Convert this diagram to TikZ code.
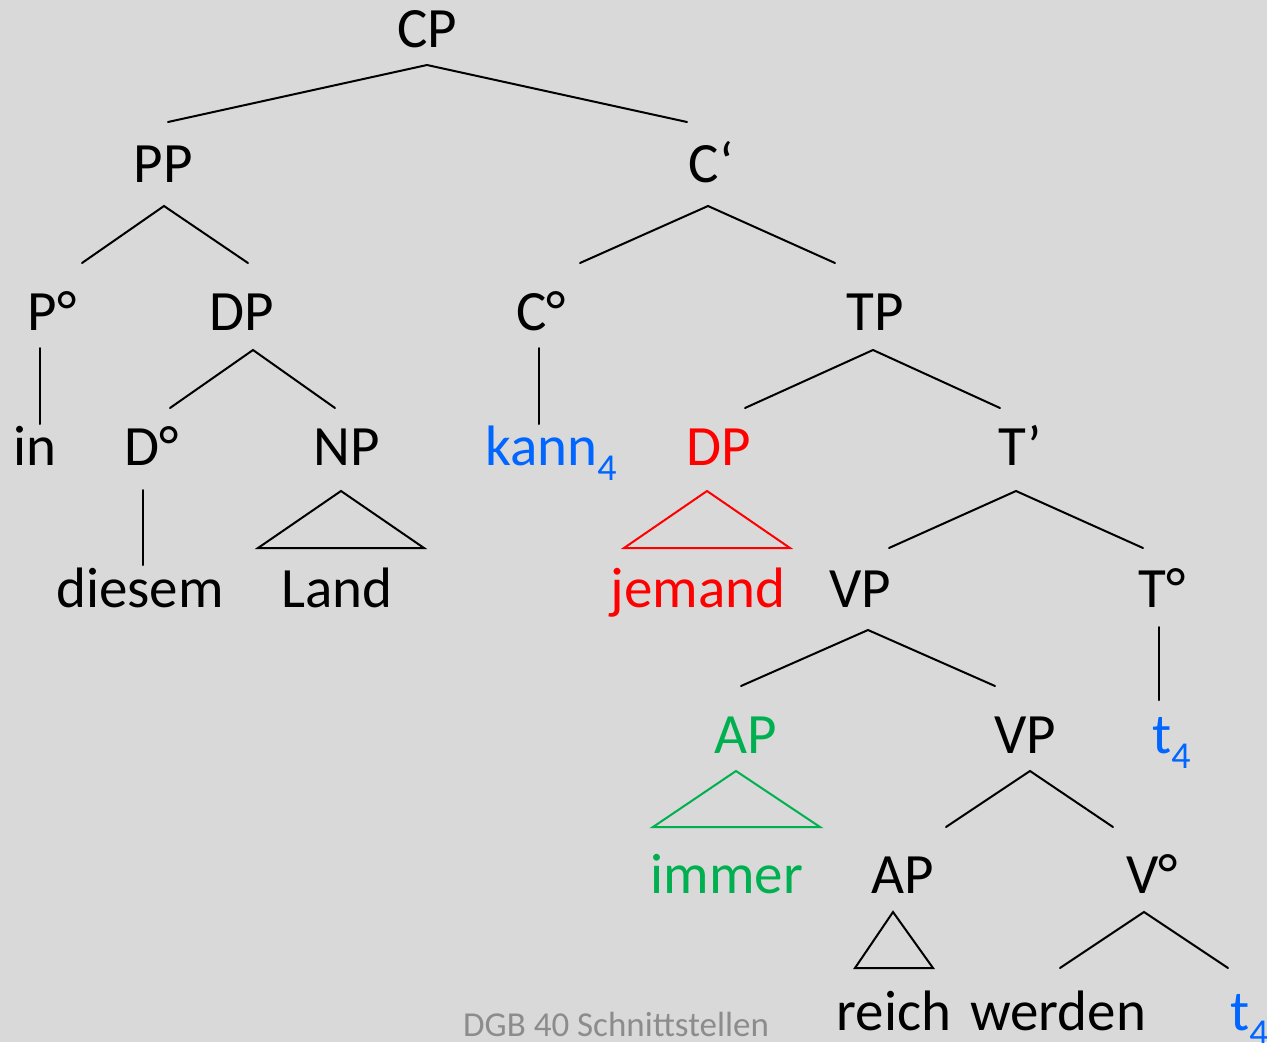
\documentclass[tikz,border=0pt]{standalone}
\usepackage{fontspec}
\setmainfont{Carlito}
\definecolor{bg}{HTML}{D9D9D9}
\definecolor{tblue}{HTML}{0066FF}
\definecolor{tred}{HTML}{FF0000}
\definecolor{tgreen}{HTML}{00B050}
\definecolor{tgray}{HTML}{8C8C8C}
\newcommand\subidx[1]{\raisebox{-15pt}{\fontsize{38}{40}\selectfont #1}}
\tikzset{
  lab/.style={inner sep=0pt, anchor=base, font=\fontsize{57}{60}\selectfont},
  labw/.style={lab, anchor=base west},
  branch/.style={line width=2pt, line cap=round},
  tri/.style={line width=2pt, line join=miter},
}
\begin{document}
\begin{tikzpicture}[x=1pt,y=-1pt]
\fill[bg] (0,0) rectangle (1267,1042);
\useasboundingbox (0,0) rectangle (1267,1042);

% nodes
\node[lab] (CP) at (427,47) {CP};
\node[lab] (PP) at (163,182) {PP};
\node[lab] (Cbar) at (711,182) {C‘};
\node[lab] (P0) at (52,330) {P°};
\node[lab] (DP1) at (242,330) {DP};
\node[lab] (C0) at (541,330) {C°};
\node[lab] (TP) at (875,330) {TP};
\node[lab] (in) at (35,465) {in};
\node[lab] (D0) at (152,465) {D°};
\node[lab] (NP) at (347,465) {NP};
\node[labw, text=tblue] (kann) at (485,465) {kann\subidx{4}};
\node[lab, text=tred] (DP2) at (719,465) {DP};
\node[lab] (Tbar) at (1020,465) {T’};
\node[lab] (diesem) at (140,607) {diesem};
\node[lab] (Land) at (337,607) {Land};
\node[lab, text=tred] (jemand) at (698,607) {jemand};
\node[lab] (VP1) at (860,607) {VP};
\node[lab] (T0) at (1162,607) {T°};
\node[lab, text=tgreen] (AP1) at (746,753) {AP};
\node[lab] (VP2) at (1025,753) {VP};
\node[labw, text=tblue] (t1) at (1152,753) {t\subidx{4}};
\node[lab, text=tgreen] (immer) at (727,893) {immer};
\node[lab] (AP2) at (903,893) {AP};
\node[lab] (V0) at (1152,893) {V°};
\node[lab] (reich) at (894,1030) {reich};
\node[lab] (werden) at (1058,1030) {werden};
\node[labw, text=tblue] (t2) at (1230,1030) {t\subidx{4}};
\node[inner sep=0pt, anchor=base west, text=tgray, font=\fontsize{35}{38}\selectfont] (dgb) at (463,1036) {DGB 40 Schnittstellen};

% branch points
\coordinate (CPb) at (427,65);  \coordinate (PPt) at (168,122);  \coordinate (Cbart) at (687,122);
\coordinate (PPb) at (164,206); \coordinate (P0t) at (82,263);   \coordinate (DP1t) at (248,263);
\coordinate (Cbarb) at (708,206); \coordinate (C0t) at (580,263); \coordinate (TPt) at (835,263);
\coordinate (P0b) at (40,348);  \coordinate (int) at (40,424);
\coordinate (DP1b) at (253,350); \coordinate (D0t) at (170,408); \coordinate (NPt) at (335,408);
\coordinate (C0b) at (539,348); \coordinate (kannt) at (539,424);
\coordinate (TPb) at (873,350); \coordinate (DP2t) at (745,408); \coordinate (Tbart) at (1000,408);
\coordinate (D0b) at (143,490); \coordinate (diesemt) at (143,565);
\coordinate (NPa) at (341,491); \coordinate (NPl) at (258,548); \coordinate (NPr) at (424,548);
\coordinate (DP2a) at (707,491); \coordinate (DP2l) at (624,548); \coordinate (DP2r) at (790,548);
\coordinate (Tbarb) at (1016,491); \coordinate (VP1t) at (889,548); \coordinate (T0t) at (1143,548);
\coordinate (VP1b) at (868,630); \coordinate (AP1t) at (741,686); \coordinate (VP2t) at (995,686);
\coordinate (T0b) at (1159,627); \coordinate (t1t) at (1159,700);
\coordinate (AP1a) at (736,771); \coordinate (AP1l) at (653,827); \coordinate (AP1r) at (820,827);
\coordinate (VP2b) at (1030,771); \coordinate (AP2t) at (946,827); \coordinate (V0t) at (1113,827);
\coordinate (AP2a) at (893,912); \coordinate (AP2l) at (855,968); \coordinate (AP2r) at (933,968);
\coordinate (V0b) at (1144,912); \coordinate (werdent) at (1060,968); \coordinate (t2t) at (1228,968);

% branches
\draw[branch] (PPt) -- (CPb) -- (Cbart);
\draw[branch] (P0t) -- (PPb) -- (DP1t);
\draw[branch] (C0t) -- (Cbarb) -- (TPt);
\draw[branch] (P0b) -- (int);
\draw[branch] (D0t) -- (DP1b) -- (NPt);
\draw[branch] (C0b) -- (kannt);
\draw[branch] (DP2t) -- (TPb) -- (Tbart);
\draw[branch] (D0b) -- (diesemt);
\draw[tri] (NPa) -- (NPl) -- (NPr) -- cycle;
\draw[tri, tred] (DP2a) -- (DP2l) -- (DP2r) -- cycle;
\draw[branch] (VP1t) -- (Tbarb) -- (T0t);
\draw[branch] (AP1t) -- (VP1b) -- (VP2t);
\draw[branch] (T0b) -- (t1t);
\draw[tri, tgreen] (AP1a) -- (AP1l) -- (AP1r) -- cycle;
\draw[branch] (AP2t) -- (VP2b) -- (V0t);
\draw[tri] (AP2a) -- (AP2l) -- (AP2r) -- cycle;
\draw[branch] (werdent) -- (V0b) -- (t2t);
\end{tikzpicture}
\end{document}
